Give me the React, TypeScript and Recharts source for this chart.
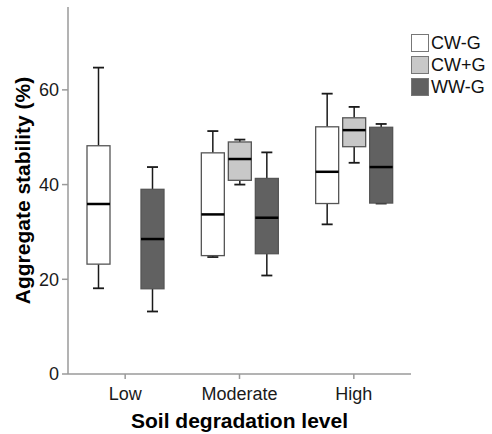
import { ComposedChart, Bar, XAxis, YAxis, Legend } from 'recharts';

const categories = ['Low', 'Moderate', 'High'];
const seriesNames = ['CW-G', 'CW+G', 'WW-G'];
const seriesFills = ['#ffffff', '#c8c8c8', '#616161'];

// five-number summaries per level: [min, q1, median, q3, max]
const cwMinusG = [
  [18.1, 23.2, 35.9, 48.2, 64.7],
  [24.7, 25.0, 33.7, 46.7, 51.3],
  [31.6, 36.0, 42.7, 52.2, 59.2],
];
const cwPlusG = [
  null,
  [40.0, 40.9, 45.4, 49.0, 49.5],
  [44.6, 48.0, 51.5, 54.1, 56.4],
];
const wwMinusG = [
  [13.2, 18.0, 28.5, 39.0, 43.7],
  [20.8, 25.4, 33.0, 41.3, 46.8],
  [36.0, 36.1, 43.7, 52.1, 52.8],
];

const yTicks = [0, 20, 40, 60];

const keys = ['cwm', 'cwp', 'wwm'];
const allStats = [cwMinusG, cwPlusG, wwMinusG];

const data = categories.map((name, i) => {
  const row: any = { name };
  keys.forEach((k, s) => {
    const st = allStats[s][i];
    row[k] = st;
    row[k + 'Range'] = st ? [st[0], st[4]] : null;
  });
  return row;
});

const makeBox = (key: string, fill: string) => (props: any) => {
  const { x, y, width, height, payload } = props;
  const st = payload[key];
  if (!st) return <g />;
  const top = Math.min(y, y + height);
  const h = Math.abs(height);
  const [min, q1, med, q3, max] = st;
  const span = max - min || 1;
  const py = (v: number) => top + ((max - v) / span) * h;
  const cx = x + width / 2;
  const cap = 5.5;
  return (
    <g>
      <line x1={cx} x2={cx} y1={py(max)} y2={py(q3)} stroke="#1a1a1a" strokeWidth={1.5} />
      <line x1={cx} x2={cx} y1={py(q1)} y2={py(min)} stroke="#1a1a1a" strokeWidth={1.5} />
      <line x1={cx - cap} x2={cx + cap} y1={py(max)} y2={py(max)} stroke="#1a1a1a" strokeWidth={1.8} />
      <line x1={cx - cap} x2={cx + cap} y1={py(min)} y2={py(min)} stroke="#1a1a1a" strokeWidth={1.8} />
      <rect x={x} y={py(q3)} width={width} height={py(q1) - py(q3)} fill={fill} stroke="#555" strokeWidth={1.3} />
      <line x1={x} x2={x + width} y1={py(med)} y2={py(med)} stroke="#000" strokeWidth={2.5} />
    </g>
  );
};

const LegendBox = () => (
  <div style={{ fontFamily: 'Liberation Sans, Arial, sans-serif', fontSize: 18, color: '#111' }}>
    {seriesNames.map((n, i) => (
      <div key={n} style={{ display: 'flex', alignItems: 'center', height: 22 }}>
        <span
          style={{
            width: 16,
            height: 16,
            background: seriesFills[i],
            border: '1px solid #777',
            marginRight: 2,
            display: 'inline-block',
          }}
        />
        <span>{n}</span>
      </div>
    ))}
  </div>
);

export default function App() {
  const font = 'Liberation Sans, Arial, sans-serif';
  return (
    <div style={{ width: 492, height: 434, background: '#fff' }}>
      <style>{'body{margin:0}'}</style>
      <ComposedChart
        width={492}
        height={434}
        data={data}
        margin={{ top: 7, right: 81, left: 8, bottom: 0 }}
        barSize={23}
        barGap={4}
      >
        <XAxis
          dataKey="name"
          height={60}
          stroke="#9a9a9a"
          strokeWidth={1.5}
          tickSize={5}
          tickMargin={8}
          tick={{ fill: '#1a1a1a', fontSize: 18, fontFamily: font }}
          label={{
            value: 'Soil degradation level',
            position: 'insideBottom',
            offset: 6,
            style: { fontSize: 21, fontWeight: 'bold', fill: '#000', fontFamily: font },
          }}
        />
        <YAxis
          width={60}
          domain={[0, 77.5]}
          ticks={yTicks}
          stroke="#9a9a9a"
          strokeWidth={1.5}
          tickSize={6}
          tickMargin={3}
          tick={{ fill: '#1a1a1a', fontSize: 18, fontFamily: font }}
          label={{
            value: 'Aggregate stability (%)',
            angle: -90,
            position: 'insideLeft',
            offset: 15,
            style: { textAnchor: 'middle', fontSize: 21, fontWeight: 'bold', fill: '#000', fontFamily: font },
          }}
        />
        <Legend
          layout="vertical"
          align="center"
          verticalAlign="middle"
          wrapperStyle={{ top: 32, left: 411, width: 'auto' }}
          content={() => <LegendBox />}
        />
        {keys.map((k, s) => (
          <Bar
            key={k}
            dataKey={k + 'Range'}
            name={seriesNames[s]}
            fill={seriesFills[s]}
            isAnimationActive={false}
            shape={makeBox(k, seriesFills[s])}
          />
        ))}
      </ComposedChart>
    </div>
  );
}
